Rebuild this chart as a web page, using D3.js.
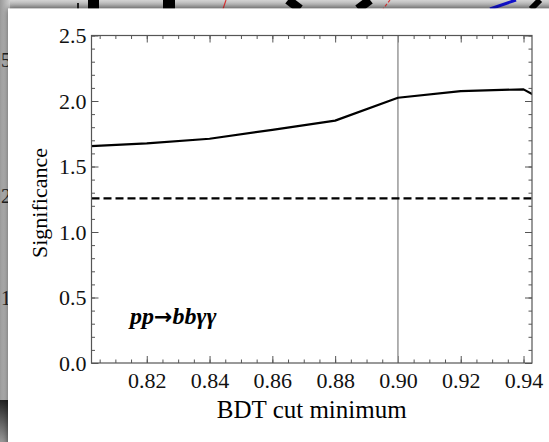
<!DOCTYPE html>
<html lang="en">
  <head>
    <meta charset="UTF-8" />
    <title>Significance vs BDT cut</title>
    <style>
      html, body { margin: 0; padding: 0; background: #aaa; }
      svg { display: block; font-family: "Liberation Serif", "DejaVu Serif", serif; }
      svg .tick text { font-family: "Liberation Serif", "DejaVu Serif", serif; }
    </style>
  </head>
  <body>
    <svg id="chart"></svg>
    <script src="https://cdn.jsdelivr.net/npm/d3@7"></script>
    <script>
      // values
      const bdtCut = [0.80, 0.82, 0.84, 0.86, 0.88, 0.90, 0.92, 0.94, 0.95];
      const significance = [1.653, 1.677, 1.712, 1.78, 1.85, 2.025, 2.076, 2.089, 1.955];
      const baseline = 1.257;
      const chosenCut = 0.9;
      const xTicks = [0.82, 0.84, 0.86, 0.88, 0.90, 0.92, 0.94];
      const yTicks = [0.0, 0.5, 1.0, 1.5, 2.0, 2.5];

      const W = 549, H = 442;
      const plot = { left: 91.5, right: 532, top: 35.5, bottom: 363 };

      const svg = d3.select("#chart").attr("width", W).attr("height", H);

      // screenshot backdrop: a grey window behind the figure
      const defs = svg.append("defs");
      const grad = defs.append("linearGradient").attr("id", "bg").attr("x1", 0).attr("y1", 0).attr("x2", 0).attr("y2", 1);
      grad.append("stop").attr("offset", 0).attr("stop-color", "#d4d4d4");
      grad.append("stop").attr("offset", 1).attr("stop-color", "#8a8a8a");
      const lgrad = defs.append("linearGradient").attr("id", "lbg").attr("x1", 0).attr("y1", 0).attr("x2", 1).attr("y2", 0);
      lgrad.append("stop").attr("offset", 0).attr("stop-color", "#9a9a9a");
      lgrad.append("stop").attr("offset", 1).attr("stop-color", "#cfcfcf");
      const dgrad = defs.append("linearGradient").attr("id", "dbg").attr("x1", 0).attr("y1", 0).attr("x2", 0).attr("y2", 1);
      dgrad.append("stop").attr("offset", 0).attr("stop-color", "#222");
      dgrad.append("stop").attr("offset", 1).attr("stop-color", "#999");
      defs.append("filter").attr("id", "shadow").attr("x", -0.05).attr("y", -0.05).attr("width", 1.2).attr("height", 1.2)
        .append("feDropShadow").attr("dx", 0).attr("dy", 0).attr("stdDeviation", 3).attr("flood-color", "#000").attr("flood-opacity", 0.6);

      svg.append("rect").attr("width", W).attr("height", 12).attr("fill", "url(#bg)");
      svg.append("rect").attr("y", 0).attr("width", 10).attr("height", H).attr("fill", "url(#lbg)");
      svg.append("rect").attr("y", 400).attr("width", 8).attr("height", 42).attr("fill", "url(#dbg)");

      const behind = svg.append("g").attr("stroke-linecap", "butt");
      behind.append("rect").attr("x", 88).attr("y", 0).attr("width", 11).attr("height", 9).attr("fill", "#000");
      behind.append("rect").attr("x", 163).attr("y", 0).attr("width", 12).attr("height", 9).attr("fill", "#000");
      behind.append("rect").attr("x", 77).attr("y", 3).attr("width", 2).attr("height", 6).attr("fill", "#222");
      behind.append("line").attr("x1", 288).attr("y1", 0).attr("x2", 300).attr("y2", 9).attr("stroke", "#000").attr("stroke-width", 9);
      behind.append("line").attr("x1", 370).attr("y1", 0).attr("x2", 358).attr("y2", 9).attr("stroke", "#000").attr("stroke-width", 9);
      behind.append("line").attr("x1", 226).attr("y1", 0).attr("x2", 223).attr("y2", 9).attr("stroke", "#d33").attr("stroke-width", 1.2);
      behind.append("line").attr("x1", 390).attr("y1", 0).attr("x2", 383).attr("y2", 9).attr("stroke", "#d33").attr("stroke-width", 1.2).attr("stroke-dasharray", "3,2");
      behind.append("line").attr("x1", 516).attr("y1", 0).attr("x2", 490).attr("y2", 9).attr("stroke", "#11c").attr("stroke-width", 3);
      behind.append("line").attr("x1", 540).attr("y1", 0).attr("x2", 531).attr("y2", 9).attr("stroke", "#000").attr("stroke-width", 6);
      behind.selectAll("text.ghost").data([["5", 62], ["2", 198], ["1", 300]]).join("text")
        .attr("x", 1).attr("y", (d) => d[1]).attr("font-size", 20).attr("fill", "#222")
        .attr("dominant-baseline", "middle").text((d) => d[0]);

      // figure panel
      svg.append("rect").attr("x", 8).attr("y", 8.5).attr("width", W).attr("height", H)
        .attr("fill", "#fff").attr("filter", "url(#shadow)");

      const x = d3.scaleLinear().domain([0.8024, 0.9427]).range([plot.left, plot.right]);
      const y = d3.scaleLinear().domain([0, 2.5]).range([plot.bottom, plot.top]);

      const minorX = d3.range(0.805, 0.9427, 0.005);
      const minorY = d3.range(0, 2.5001, 0.1);
      const axisColor = "#555";

      function styleAxis(g) {
        g.attr("font-family", null).attr("font-size", null);
        g.select(".domain").remove();
        g.selectAll(".tick line").attr("stroke", axisColor);
        g.selectAll(".tick text").attr("fill", "#111").attr("font-size", 22);
      }

      // minor ticks (all four sides, inward)
      svg.append("g").attr("transform", `translate(0,${plot.bottom})`)
        .call(d3.axisBottom(x).tickValues(minorX).tickSize(-3.5).tickFormat(""))
        .call(styleAxis);
      svg.append("g").attr("transform", `translate(0,${plot.top})`)
        .call(d3.axisTop(x).tickValues(minorX).tickSize(-3.5).tickFormat(""))
        .call(styleAxis);
      svg.append("g").attr("transform", `translate(${plot.left},0)`)
        .call(d3.axisLeft(y).tickValues(minorY).tickSize(-3.5).tickFormat(""))
        .call(styleAxis);
      svg.append("g").attr("transform", `translate(${plot.right},0)`)
        .call(d3.axisRight(y).tickValues(minorY).tickSize(-3.5).tickFormat(""))
        .call(styleAxis);

      // major ticks
      svg.append("g").attr("transform", `translate(0,${plot.bottom})`)
        .call(d3.axisBottom(x).tickValues(xTicks).tickSize(-7).tickPadding(9).tickFormat(d3.format(".2f")))
        .call(styleAxis);
      svg.append("g").attr("transform", `translate(0,${plot.top})`)
        .call(d3.axisTop(x).tickValues(xTicks).tickSize(-7).tickFormat(""))
        .call(styleAxis);
      svg.append("g").attr("transform", `translate(${plot.left},0)`)
        .call(d3.axisLeft(y).tickValues(yTicks).tickSize(-7).tickPadding(5).tickFormat(d3.format(".1f")))
        .call(styleAxis);
      svg.append("g").attr("transform", `translate(${plot.right},0)`)
        .call(d3.axisRight(y).tickValues(yTicks).tickSize(-7).tickFormat(""))
        .call(styleAxis);

      defs.append("clipPath").attr("id", "clip").append("rect")
        .attr("x", plot.left).attr("y", plot.top)
        .attr("width", plot.right - plot.left).attr("height", plot.bottom - plot.top);

      const inner = svg.append("g").attr("clip-path", "url(#clip)");

      inner.append("line")
        .attr("x1", x(chosenCut)).attr("x2", x(chosenCut))
        .attr("y1", plot.top).attr("y2", plot.bottom)
        .attr("stroke", "#999").attr("stroke-width", 1.5);

      inner.append("line")
        .attr("x1", plot.left).attr("x2", plot.right)
        .attr("y1", y(baseline)).attr("y2", y(baseline))
        .attr("stroke", "#000").attr("stroke-width", 2.2).attr("stroke-dasharray", "8,4");

      const line = d3.line().x((d) => x(d[0])).y((d) => y(d[1]));
      inner.append("path")
        .datum(d3.zip(bdtCut, significance))
        .attr("d", line)
        .attr("fill", "none").attr("stroke", "#000").attr("stroke-width", 2.2)
        .attr("stroke-linejoin", "round");

      // frame
      svg.append("rect")
        .attr("x", plot.left).attr("y", plot.top)
        .attr("width", plot.right - plot.left).attr("height", plot.bottom - plot.top)
        .attr("fill", "none").attr("stroke", axisColor).attr("stroke-width", 1.2);

      const label = svg.append("text")
        .attr("x", 130).attr("y", 324)
        .attr("font-size", 24).attr("font-weight", "bold").attr("font-style", "italic");
      label.append("tspan").text("pp");
      label.append("tspan").attr("font-family", "DejaVu Sans").attr("font-style", "normal").attr("font-size", 22).text("→");
      label.append("tspan").text("bbγγ");

      svg.append("text")
        .attr("x", (plot.left + plot.right) / 2).attr("y", 418)
        .attr("text-anchor", "middle").attr("font-size", 25)
        .text("BDT cut minimum");

      svg.append("text")
        .attr("transform", "translate(47,203) rotate(-90)")
        .attr("text-anchor", "middle").attr("font-size", 22)
        .text("Significance");
    </script>
  </body>
</html>
